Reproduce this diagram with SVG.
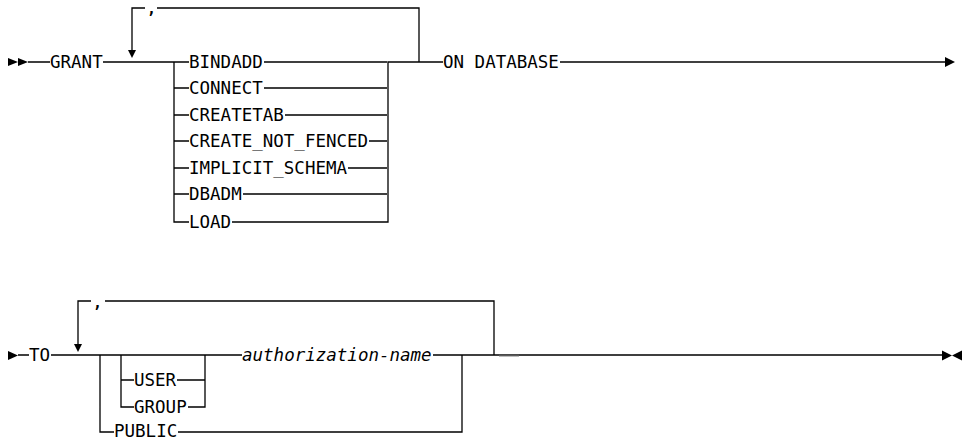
<svg xmlns="http://www.w3.org/2000/svg" width="963" height="441" viewBox="0 0 963 441">
<style>
.t{font-family:"DejaVu Sans Mono","Liberation Mono",monospace;font-size:17.5px;fill:#000}
.i{font-style:italic}
.c{font-family:"DejaVu Sans Mono","Liberation Mono",monospace;font-size:15px;font-weight:bold;fill:#000;text-anchor:middle}
.l{fill:none;stroke:#000;stroke-width:1.3}
.a{fill:#000}
</style>
<rect width="963" height="441" fill="#fff"/>
<g id="connectors">
  <!-- row 1 -->
  <path class="l" d="M28 62H50M103 62H189M174 62V222H189"/>
  <path class="l" d="M174 88H189M174 115H189M174 141H189M174 168H189M174 194H189"/>
  <path class="l" d="M264 62H387M264 88H387M285 115H387M369 141H387M348 168H387M243 194H387M232 222H388V62H443"/>
  <path class="l" d="M419 62V8H157M145 8H132V50"/>
  <path class="l" d="M560 62H946"/>
  <polygon class="a" points="128,50 136,50 132,58"/>
  <polygon class="a" points="8,58 18,62 8,66"/>
  <polygon class="a" points="18,58 28,62 18,66"/>
  <polygon class="a" points="945,57 955,62 945,67"/>
  <!-- row 2 -->
  <path class="l" d="M18 355H29M51 355H242M100 355V432H114M121 355V407H134M121 380H134"/>
  <path class="l" d="M177 380H205M188 407H205V355"/>
  <path class="l" d="M178 432H462V355M433 355H942"/>
  <path class="l" d="M494 355V301H105M91 301H78V344"/>
  <line x1="499" y1="355.5" x2="519" y2="355.5" stroke="#5a5a5a" stroke-width="1.8"/>
  <polygon class="a" points="74,344 82,344 78,352"/>
  <polygon class="a" points="8,351 18,355.5 8,360"/>
  <polygon class="a" points="942,350.5 952,355.5 942,360.5"/>
  <polygon class="a" points="962,350.5 952,355.5 962,360.5"/>
</g>
<g id="comma1"><text class="c" x="151.5" y="14">,</text></g>
<g id="comma2"><text class="c" x="97.5" y="308">,</text></g>
<g id="grant"><text class="t" x="50" y="67.5">GRANT</text></g>
<g id="bindadd"><text class="t" x="189" y="67.5">BINDADD</text></g>
<g id="connect"><text class="t" x="189" y="93.5">CONNECT</text></g>
<g id="createtab"><text class="t" x="189" y="120.5">CREATETAB</text></g>
<g id="create_not_fenced"><text class="t" x="189" y="146.5">CREATE_NOT_FENCED</text></g>
<g id="implicit_schema"><text class="t" x="189" y="173.5">IMPLICIT_SCHEMA</text></g>
<g id="dbadm"><text class="t" x="189" y="199.5">DBADM</text></g>
<g id="load"><text class="t" x="189" y="227.5">LOAD</text></g>
<g id="on_database"><text class="t" x="443" y="67.5">ON DATABASE</text></g>
<g id="to"><text class="t" x="29" y="360.5">TO</text></g>
<g id="user"><text class="t" x="134" y="385.5">USER</text></g>
<g id="group"><text class="t" x="134" y="412.5">GROUP</text></g>
<g id="public"><text class="t" x="114" y="436.5">PUBLIC</text></g>
<g id="authorization_name"><text class="t i" x="242" y="360.5">authorization-name</text></g>
</svg>
